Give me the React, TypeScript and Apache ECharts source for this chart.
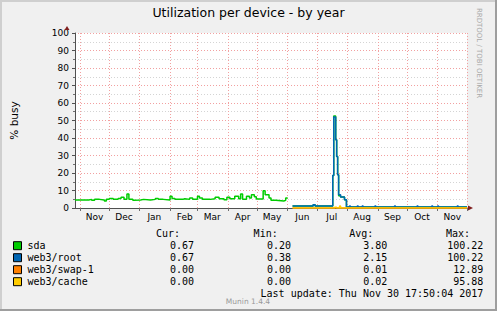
import React, { useEffect, useRef } from "react";
import * as echarts from "echarts";

// ---------- data ----------
const monthNames = ["Jan", "Feb", "Mar", "Apr", "May", "Jun", "Jul", "Aug", "Sep", "Oct", "Nov", "Dec"];
const yTicks = [0, 10, 20, 30, 40, 50, 60, 70, 80, 90, 100];

// day index 0 = 2016-10-27, 400 = 2017-12-01
const START_UTC = Date.UTC(2016, 9, 27);
const NUM_DAYS = 401;

const seriesNames = ["sda", "web3/root", "web3/swap-1", "web3/cache"];
const seriesColors = ["#00CC00", "#0066B3", "#FF8000", "#FFCC00"];

const sdaData: [number, number | string][] = [
  [0, 4.55], [14, 4.93], [17, 4.36], [20, 4.93], [25, 4.55], [30, 3.98], [32, 4.93], [35, 5.5],
  [39, 4.93], [44, 5.5], [47, 6.08], [50, 4.93], [53, 7.98], [55, 4.93], [59, 4.36], [60, 4.55],
  [67, 4.93], [70, 4.55], [77, 4.93], [82, 5.5], [85, 4.93], [90, 4.55], [97, 6.67], [99, 5.5],
  [102, 4.93], [110, 5.31], [112, 4.93], [117, 5.7], [120, 4.93], [125, 6.67], [127, 5.7],
  [130, 4.93], [138, 5.31], [143, 6.08], [147, 5.31], [152, 4.74], [155, 6.08], [158, 5.31],
  [163, 6.67], [167, 5.31], [169, 7.98], [171, 4.93], [175, 6.67], [178, 5.7], [180, 7.6],
  [183, 6.46], [185, 5.12], [192, 9.89], [194, 7.6], [198, 5.7], [200, 4.36], [205, 3.98],
  [213, 4.36], [215, 5.7], [216, 5.7], [217, "-"],
  [222, 1.1], [243, 1.9], [245, 1.1], [263, 18.6], [264, 52.6], [266, 39], [267, 29.5],
  [268, 19], [269, 7.0], [271, 6.3], [275, 4.7], [277, 0.6], [400, 0.6],
];

const rootData: [number, number][] = [
  [222, 1.1], [243, 1.9], [245, 1.1], [263, 18.6], [264, 52], [266, 39], [267, 29.5], [268, 19],
  [269, 7.6], [271, 6.3], [275, 4.7], [277, 0.6], [280, 1.1], [281, 0.6], [288, 1.1], [289, 0.6],
  [293, 1.1], [294, 0.6], [306, 1.1], [307, 0.6], [326, 1.1], [327, 0.6], [349, 1.1], [350, 0.6],
  [364, 1.1], [365, 0.6], [370, 1.1], [371, 0.6], [390, 1.1], [391, 0.6], [400, 0.6],
];

const swapData: [number, number][] = [[222, 0], [400, 0]];

const cacheData: [number, number][] = [
  [222, 0], [265, 0.5], [267, 0], [270, 1.1], [271, 0], [400, 0],
];

const statHeaders = ["Cur:", "Min:", "Avg:", "Max:"];
const curVals = ["0.67", "0.67", "0.00", "0.00"];
const minVals = ["0.20", "0.38", "0.00", "0.00"];
const avgVals = ["3.80", "2.15", "0.01", "0.02"];
const maxVals = ["100.22", "100.22", "12.89", "95.88"];
const lastUpdate = "Last update: Thu Nov 30 17:50:04 2017";

// ---------- layout ----------
const W = 497;
const H = 311;
const GL = 67;
const GT = 33;
const GW = 400;
const GH = 175;
const MONO = '"DejaVu Sans Mono", monospace';
const SANS = '"DejaVu Sans", sans-serif';

const dayCats = Array.from({ length: NUM_DAYS }, (_, i) => {
  const d = new Date(START_UTC + i * 86400000);
  return `${d.getUTCFullYear()}-${d.getUTCMonth() + 1}-${d.getUTCDate()}`;
});
const dayOf = (v: string) => Number(v.split("-")[2]);
const monthOf = (v: string) => Number(v.split("-")[1]);

function txt(text: string, x: number, y: number, align: string, opts: any = {}) {
  return {
    type: "text",
    x,
    y,
    silent: true,
    rotation: opts.rotation || 0,
    style: {
      text,
      fill: opts.fill || "#000",
      fontSize: opts.fontSize || 10,
      fontFamily: opts.fontFamily || MONO,
      align,
      textAlign: align,
      verticalAlign: "middle",
      textVerticalAlign: "middle",
    },
  };
}

export default function App() {
  const ref = useRef<HTMLDivElement>(null);
  useEffect(() => {
    if (!ref.current) return;
    const chart = echarts.init(ref.current, null, { renderer: "svg" });

    const rowY = [245.7, 257.7, 269.7, 281.7];
    const colRight = [194, 291, 387.3, 483.3];
    const headRight = [180, 277.7, 373.3, 470];
    const cols = [curVals, minVals, avgVals, maxVals];

    const graphic: any[] = [
      // 3D border
      { type: "rect", silent: true, shape: { x: 0, y: 0, width: W, height: 2 }, style: { fill: "#CFCFCF" } },
      { type: "rect", silent: true, shape: { x: 0, y: 0, width: 2, height: H }, style: { fill: "#CFCFCF" } },
      { type: "rect", silent: true, shape: { x: 0, y: H - 2, width: W, height: 2 }, style: { fill: "#9E9E9E" } },
      { type: "rect", silent: true, shape: { x: W - 2, y: 0, width: 2, height: H }, style: { fill: "#9E9E9E" } },
      // axis arrows
      {
        type: "polygon", silent: true, z: 100,
        shape: { points: [[GL - 2.5, GT - 3], [GL + 2.5, GT - 3], [GL, GT - 7]] },
        style: { fill: "#7F1F1F" },
      },
      {
        type: "polygon", silent: true, z: 100,
        shape: { points: [[GL + GW + 1, GT + GH - 2.5], [GL + GW + 1, GT + GH + 2.5], [GL + GW + 6, GT + GH]] },
        style: { fill: "#7F1F1F" },
      },
      txt("RRDTOOL / TOBI OETIKER", 479, 53, "center", { fontFamily: SANS, fontSize: 7, fill: "#A8A8A8", rotation: -Math.PI / 2 }),
      txt("Munin 1.4.4", 248, 301, "center", { fontFamily: SANS, fontSize: 7.5, fill: "#9A9A9A" }),
      txt(lastUpdate, 483.3, 293.7, "right"),
    ];
    statHeaders.forEach((h, c) => graphic.push(txt(h, headRight[c], 233.3, "right")));
    cols.forEach((vals, c) =>
      vals.forEach((v, r) => graphic.push(txt(v, colRight[c], rowY[r], "right")))
    );

    const allData = [sdaData, rootData, swapData, cacheData];

    chart.setOption({
      animation: false,
      backgroundColor: "#F0F0F0",
      title: {
        text: "Utilization per device - by year",
        left: "center",
        top: 1,
        padding: 5,
        textStyle: { fontFamily: SANS, fontSize: 12.5, fontWeight: "normal", color: "#000" },
      },
      legend: {
        data: seriesNames.map((n) => ({ name: n, icon: "rect" })),
        orient: "vertical",
        left: 8,
        top: 234.7,
        padding: 5,
        itemWidth: 8,
        itemHeight: 8,
        itemGap: 0,
        selectedMode: false,
        itemStyle: { borderColor: "#000", borderWidth: 1 },
        textStyle: { fontFamily: MONO, fontSize: 10, lineHeight: 12, color: "#000", padding: [0, 0, 0, 1] },
      },
      grid: { left: GL, top: GT, width: GW, height: GH, backgroundColor: "#FFFFFF", show: true, borderWidth: 0 },
      xAxis: [
        {
          type: "category",
          data: dayCats,
          boundaryGap: false,
          axisLine: { show: true, lineStyle: { color: "#505050", width: 1 } },
          axisTick: {
            show: true,
            length: 3,
            interval: (i: number, v: string) => dayOf(v) === 1,
            lineStyle: { color: "#707070" },
          },
          axisLabel: {
            interval: (i: number, v: string) => dayOf(v) === 16,
            formatter: (v: string) => monthNames[monthOf(v) - 1],
            fontFamily: SANS,
            fontSize: 9,
            color: "#000",
            margin: 4,
          },
          splitLine: {
            show: true,
            interval: (i: number, v: string) => dayOf(v) === 1,
            lineStyle: { color: "#F2A0A0", type: [1, 2], width: 1 },
          },
        },
        { type: "value", min: 0, max: NUM_DAYS - 1, show: false },
      ],
      yAxis: {
        type: "value",
        min: yTicks[0],
        max: yTicks[yTicks.length - 1],
        interval: yTicks[1] - yTicks[0],
        name: "% busy",
        nameLocation: "middle",
        nameGap: 56,
        nameRotate: 90,
        nameTextStyle: { fontFamily: SANS, fontSize: 10.5, color: "#000" },
        axisLine: { show: true, lineStyle: { color: "#505050", width: 1 } },
        axisTick: { show: true, length: 3, lineStyle: { color: "#505050" } },
        minorTick: { show: true, splitNumber: 2, length: 2, lineStyle: { color: "#707070" } },
        axisLabel: { fontFamily: SANS, fontSize: 9, color: "#000", margin: 6 },
        splitLine: { show: true, lineStyle: { color: "#F2A0A0", type: [1, 2], width: 1 } },
        minorSplitLine: { show: true, lineStyle: { color: "#D4D4D4", type: [1, 2], width: 1 } },
      },
      series: seriesNames.map((name, i) => ({
        name,
        type: "line",
        xAxisIndex: 1,
        data: allData[i],
        step: "end",
        showSymbol: false,
        symbol: "none",
        connectNulls: false,
        color: seriesColors[i],
        lineStyle: { color: seriesColors[i], width: 1.5 },
        itemStyle: { color: seriesColors[i] },
      })),
      graphic,
    });
    return () => chart.dispose();
  }, []);
  return (
    <div
      ref={ref}
      style={{ position: "absolute", left: 0, top: 0, width: W, height: H, background: "#F0F0F0" }}
    />
  );
}
